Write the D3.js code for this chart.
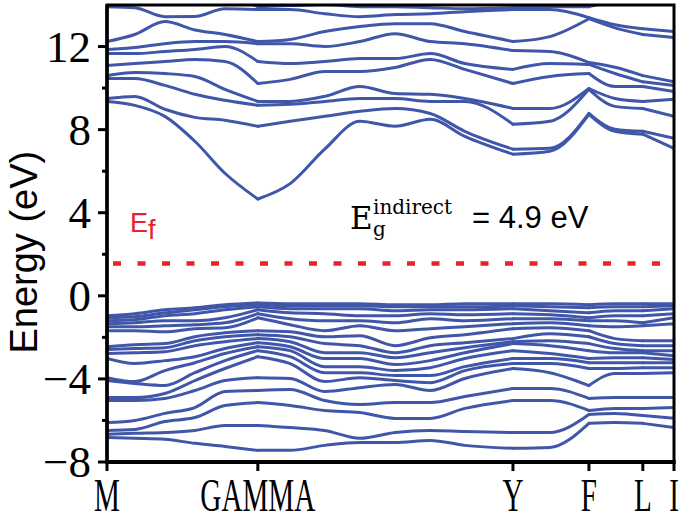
<!DOCTYPE html>
<meta charset="utf-8">
<head>
    <title>Band structure</title>
</head>
<style>
    body { margin: 0; background: #fff; }
    .serif { font-family: "Liberation Serif", "Times New Roman", serif; }
    .sans { font-family: "Liberation Sans", Arial, sans-serif; }
</style>
<script src="https://d3js.org/d3.v7.min.js"></script>
<body>
    <div id="bands"></div>
</body>
<script>

    // k-path, as fraction of total path length
    var kPoints = [0, 0.049, 0.102, 0.155, 0.208, 0.266, 0.323, 0.384, 0.446, 0.508,
        0.570, 0.631, 0.716, 0.781, 0.850, 0.896, 0.945, 1.0];
    var kTickPos = [0, 0.266, 0.716, 0.850, 0.945, 1.0];
    var kTickLabels = ["M", "GAMMA", "Y", "F", "L", "I"];
    // index of the high-symmetry points inside kPoints
    var kBreaks = [0, 5, 12, 14, 16, 17];

    var yTicks = [-8, -4, 0, 4, 8, 12];
    var yMinorTicks = [-6, -2, 2, 6, 10];

    var fermiLevel = 1.55;
    var gapValue = 4.9;

    // conduction band energies (eV) at each k point, lowest first
    var cbAtK = [
        [9.36, 9.50, 10.46, 10.61, 11.09, 11.66, 11.86, 12.24, 13.92, 14.64],
        [9.17, 9.60, 10.46, 10.75, 11.18, 11.66, 11.95, 12.58, 13.87, 14.54],
        [8.64, 8.98, 10.13, 10.70, 11.28, 11.76, 12.14, 13.20, 13.44, 14.40],
        [7.44, 8.59, 9.70, 10.56, 11.38, 11.86, 12.24, 12.80, 13.45, 14.40],
        [5.90, 8.45, 9.41, 9.94, 11.28, 12.00, 12.24, 12.58, 13.82, 14.40],
        [4.66, 8.16, 9.17, 9.36, 10.22, 11.28, 12.14, 12.24, 13.78, 13.92],
        [5.40, 8.40, 9.22, 9.36, 10.42, 11.18, 12.14, 12.34, 13.78, 13.97],
        [7.06, 8.64, 9.36, 9.60, 10.80, 11.28, 12.00, 12.72, 13.58, 14.02],
        [8.40, 8.88, 9.50, 10.08, 10.80, 11.42, 12.24, 12.96, 13.44, 13.92],
        [8.16, 9.02, 9.50, 9.74, 10.99, 11.42, 12.62, 13.10, 13.54, 13.92],
        [8.50, 8.78, 9.36, 9.70, 11.38, 11.66, 12.24, 13.10, 13.58, 13.87],
        [7.68, 7.92, 9.36, 9.50, 10.90, 11.18, 12.14, 12.72, 13.68, 13.82],
        [6.82, 7.06, 8.26, 9.02, 10.22, 10.90, 11.81, 12.24, 13.78, 13.87],
        [6.96, 7.10, 8.40, 9.02, 10.56, 11.18, 11.76, 12.48, 13.78, 13.92],
        [8.74, 8.78, 9.94, 9.98, 10.70, 11.14, 11.23, 13.34, 13.39, 13.92],
        [7.92, 8.02, 9.12, 9.50, 10.08, 10.70, 11.00, 12.90, 13.05, 14.20],
        [7.78, 7.92, 9.02, 9.36, 10.08, 10.30, 10.60, 12.58, 12.86, 14.40],
        [7.10, 7.58, 8.64, 9.46, 9.84, 10.12, 10.30, 12.43, 12.72, 14.60]
    ];

    // valence band energies (eV) at each k point, highest first
    var vbAtK = [
        [-0.96, -1.06, -1.20, -1.34, -1.49, -1.68, -2.45, -2.59, -2.78, -3.02, -3.94, -4.08, -4.90, -5.04, -6.10, -6.48, -6.67, -6.82],
        [-0.86, -1.01, -1.15, -1.30, -1.49, -1.68, -2.35, -2.54, -2.74, -3.26, -4.13, -4.22, -4.90, -5.04, -6.00, -6.43, -6.62, -6.86],
        [-0.67, -0.82, -0.96, -1.20, -1.44, -1.73, -2.30, -2.50, -2.69, -3.12, -3.60, -4.32, -4.70, -4.94, -5.66, -6.05, -6.58, -6.91],
        [-0.58, -0.67, -0.86, -1.20, -1.39, -1.58, -1.97, -2.16, -2.40, -2.93, -3.22, -3.70, -4.08, -4.56, -5.38, -5.86, -6.48, -7.10],
        [-0.43, -0.53, -0.67, -1.06, -1.30, -1.54, -1.78, -1.97, -2.21, -2.54, -2.78, -3.12, -3.50, -4.08, -4.61, -5.28, -6.24, -7.25],
        [-0.34, -0.43, -0.53, -0.67, -0.86, -1.06, -1.68, -1.87, -2.06, -2.26, -2.45, -2.64, -2.93, -3.94, -4.56, -5.14, -6.24, -7.44],
        [-0.38, -0.48, -0.62, -0.82, -1.10, -1.39, -1.73, -1.97, -2.21, -2.45, -2.64, -2.93, -3.26, -3.98, -4.51, -5.28, -6.34, -7.44],
        [-0.38, -0.48, -0.62, -0.86, -1.20, -1.68, -1.97, -2.30, -2.74, -3.02, -3.41, -3.70, -4.13, -4.61, -5.04, -5.52, -6.48, -7.20],
        [-0.38, -0.48, -0.62, -0.96, -1.20, -1.44, -1.92, -2.40, -2.74, -3.02, -3.41, -3.70, -3.94, -4.42, -5.23, -5.62, -6.86, -7.06],
        [-0.43, -0.53, -0.72, -0.96, -1.30, -1.68, -2.40, -2.74, -2.98, -3.31, -3.60, -3.84, -4.08, -4.27, -5.14, -5.90, -6.58, -7.06],
        [-0.43, -0.53, -0.67, -0.86, -1.10, -1.58, -2.02, -2.40, -2.74, -3.12, -3.46, -3.84, -4.18, -4.56, -5.14, -5.90, -6.48, -6.96],
        [-0.38, -0.53, -0.67, -0.91, -1.20, -1.49, -1.87, -2.26, -2.50, -2.74, -3.02, -3.41, -3.60, -3.98, -4.85, -5.42, -6.53, -7.20],
        [-0.38, -0.48, -0.62, -0.86, -1.10, -1.34, -1.58, -2.06, -2.21, -2.30, -2.64, -3.02, -3.26, -3.50, -4.46, -5.04, -6.58, -7.34],
        [-0.38, -0.53, -0.72, -0.91, -1.10, -1.30, -1.54, -1.82, -2.16, -2.40, -2.78, -3.02, -3.26, -3.70, -4.46, -5.04, -6.58, -7.30],
        [-0.43, -0.58, -0.82, -1.06, -1.20, -1.44, -1.68, -1.97, -2.30, -2.64, -3.02, -3.22, -3.50, -4.32, -4.94, -5.52, -5.71, -6.14],
        [-0.38, -0.53, -0.72, -0.96, -1.20, -1.49, -2.06, -2.30, -2.54, -2.74, -2.98, -3.22, -3.50, -3.74, -4.90, -5.42, -5.66, -6.10],
        [-0.38, -0.53, -0.72, -0.96, -1.30, -1.44, -2.16, -2.40, -2.64, -2.74, -2.98, -3.22, -3.46, -3.74, -4.90, -5.42, -5.76, -6.14],
        [-0.38, -0.48, -0.62, -0.86, -1.06, -1.34, -2.16, -2.40, -2.64, -2.88, -3.07, -3.22, -3.46, -3.70, -4.90, -5.38, -5.90, -6.34]
    ];

    var margin = { top: 5, right: 11, bottom: 60, left: 107 },
        width = 685 - margin.left - margin.right,
        height = 462 - margin.top;

    var bandColor = "#4057a9";

    var svg = d3.select("#bands")
        .append("svg")
        .attr("width", 685)
        .attr("height", 522)
        .append("g")
        .attr("transform", "translate(" + margin.left + "," + margin.top + ")");

    var x = d3.scaleLinear().domain([0, 1]).range([0, width]);
    var y = d3.scaleLinear().domain([-8, 14]).range([height, 0]);

    svg.append("clipPath").attr("id", "plotclip")
        .append("rect")
        .attr("x", 0).attr("y", 0)
        .attr("width", width).attr("height", height);

    // build bands from the per-k eigenvalues
    function toBands(table) {
        return d3.range(table[0].length).map(function (i) {
            return kPoints.map(function (k, j) { return [k, table[j][i]]; });
        });
    }
    var bands = toBands(cbAtK).concat(toBands(vbAtK));

    var line = d3.line()
        .curve(d3.curveMonotoneX)
        .x(function (d) { return x(d[0]); })
        .y(function (d) { return y(d[1]); });

    var bandLayer = svg.append("g").attr("clip-path", "url(#plotclip)");
    bands.forEach(function (band) {
        for (var s = 0; s < kBreaks.length - 1; s++) {
            bandLayer.append("path")
                .datum(band.slice(kBreaks[s], kBreaks[s + 1] + 1))
                .attr("fill", "none")
                .attr("stroke", bandColor)
                .attr("stroke-width", 3)
                .attr("stroke-linejoin", "round")
                .attr("stroke-linecap", "round")
                .attr("d", line);
        }
    });

    // Fermi level
    svg.append("line")
        .attr("x1", x(0)).attr("x2", x(1))
        .attr("y1", y(fermiLevel)).attr("y2", y(fermiLevel))
        .attr("stroke", "#e8212a")
        .attr("stroke-width", 4.5)
        .attr("stroke-dasharray", "8,16.5")
        .attr("stroke-dashoffset", 18.5);

    svg.append("text")
        .attr("class", "sans")
        .attr("x", x(0) + 23)
        .attr("y", y(fermiLevel) - 32)
        .attr("fill", "#e8212a")
        .style("font-size", "27px")
        .text("E")
        .append("tspan")
        .attr("dy", 7)
        .text("f");

    // gap annotation
    var gapG = svg.append("g").attr("transform", "translate(243,224)");
    gapG.append("text")
        .attr("x", 0).attr("y", 0)
        .style("font-family", "'DejaVu Serif', serif")
        .style("font-size", "31px")
        .text("E");
    gapG.append("text")
        .attr("x", 23).attr("y", -15)
        .style("font-family", "'DejaVu Serif', serif")
        .style("font-size", "20px")
        .text("indirect");
    gapG.append("text")
        .attr("x", 23).attr("y", 7)
        .style("font-family", "'DejaVu Serif', serif")
        .style("font-size", "20px")
        .text("g");
    gapG.append("text")
        .attr("class", "sans")
        .attr("x", 122).attr("y", -1)
        .style("font-size", "31px")
        .text("= " + gapValue + " eV");

    // frame
    svg.append("rect")
        .attr("x", 0).attr("y", 0)
        .attr("width", width).attr("height", height)
        .attr("fill", "none")
        .attr("stroke", "#000")
        .attr("stroke-width", 3);
    svg.append("line")
        .attr("x1", 0).attr("x2", 0).attr("y1", 0).attr("y2", height + 1.5)
        .attr("stroke", "#000").attr("stroke-width", 3.5);
    svg.append("line")
        .attr("x1", -1.5).attr("x2", width + 1.5).attr("y1", height).attr("y2", height)
        .attr("stroke", "#000").attr("stroke-width", 4);

    // y ticks
    svg.selectAll(".ymaj").data(yTicks).enter().append("line")
        .attr("x1", -9).attr("x2", 0)
        .attr("y1", function (d) { return y(d); })
        .attr("y2", function (d) { return y(d); })
        .attr("stroke", "#000").attr("stroke-width", 3);
    svg.selectAll(".ymin").data(yMinorTicks).enter().append("line")
        .attr("x1", -5).attr("x2", 0)
        .attr("y1", function (d) { return y(d); })
        .attr("y2", function (d) { return y(d); })
        .attr("stroke", "#000").attr("stroke-width", 3);
    svg.selectAll(".ylab").data(yTicks).enter().append("text")
        .attr("class", "serif")
        .attr("x", -16)
        .attr("y", function (d) { return y(d); })
        .attr("dy", "0.34em")
        .attr("text-anchor", "end")
        .style("font-size", "45px")
        .text(function (d) { return String(d).replace("-", "\u2212"); });

    // x ticks
    svg.selectAll(".xtick").data(kTickPos).enter().append("line")
        .attr("x1", function (d) { return x(d); })
        .attr("x2", function (d) { return x(d); })
        .attr("y1", height).attr("y2", height + 9)
        .attr("stroke", "#000").attr("stroke-width", 3);
    svg.selectAll(".xlab").data(kTickPos).enter().append("text")
        .attr("class", "serif")
        .attr("transform", function (d) { return "translate(" + x(d) + "," + (height + 49) + ") scale(0.62,1)"; })
        .attr("text-anchor", "middle")
        .style("font-size", "47px")
        .text(function (d, i) { return kTickLabels[i]; });

    // y title
    svg.append("text")
        .attr("class", "sans")
        .attr("transform", "translate(-70," + (y(2.1)) + ") rotate(-90)")
        .attr("text-anchor", "middle")
        .style("font-size", "38px")
        .text("Energy (eV)");

</script>
